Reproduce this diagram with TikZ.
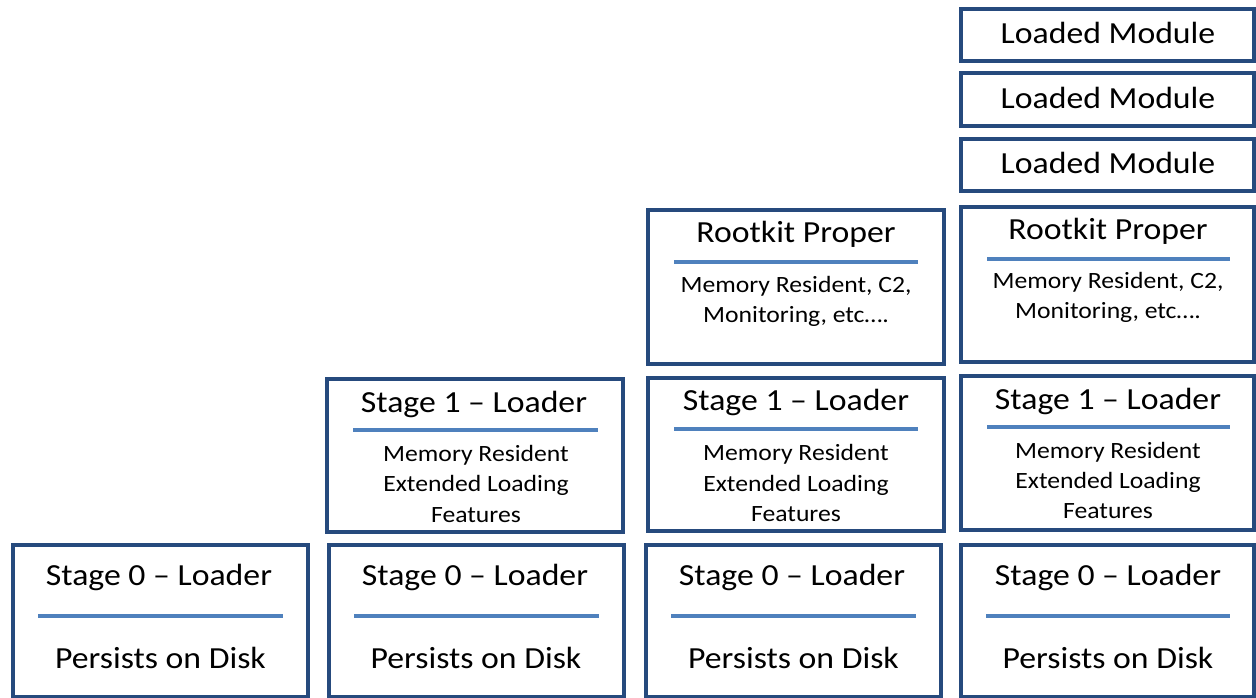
\documentclass[tikz,border=0pt]{standalone}
\usepackage{fontspec}
\setmainfont[FakeStretch=1.1]{Carlito}
\usetikzlibrary{fit}
\definecolor{boxblue}{RGB}{38,74,125}
\definecolor{sepblue}{RGB}{79,129,189}
\begin{document}
\begin{tikzpicture}[x=0.75pt,y=-0.75pt,
  box/.style={draw=boxblue, line width=2.3pt, fill=white, inner sep=0pt, outer sep=0pt},
  sepline/.style={draw=sepblue, line width=3.7pt},
  big/.style={font=\fontsize{23}{27}\selectfont, anchor=base, inner sep=0pt},
  small/.style={font=\fontsize{17.5}{23}\selectfont, anchor=base, inner sep=0pt, align=center}]
\useasboundingbox (0,0) rectangle (1256,698);
% ---------- boxes ----------
\node[box, fit={(13,545) (308,697)}] (c1s0) {};
\node[box, fit={(329,545) (624,697)}] (c2s0) {};
\node[box, fit={(327,379) (623,532)}] (c2s1) {};
\node[box, fit={(646,545) (941,697)}] (c3s0) {};
\node[box, fit={(648,378) (944,531)}] (c3s1) {};
\node[box, fit={(648,210) (944,364)}] (c3rk) {};
\node[box, fit={(961,545) (1254,697)}] (c4s0) {};
\node[box, fit={(961,376) (1254,530)}] (c4s1) {};
\node[box, fit={(961,207) (1254,362)}] (c4rk) {};
\node[box, fit={(961,139) (1254,191)}] (c4m3) {};
\node[box, fit={(961,73) (1254,126)}] (c4m2) {};
\node[box, fit={(961,9) (1254,61)}] (c4m1) {};
% ---------- separators ----------
\draw[sepline] (38,616) -- (283,616);
\draw[sepline] (354,616) -- (599,616);
\draw[sepline] (671,616) -- (916,616);
\draw[sepline] (986,616) -- (1230,616);
\draw[sepline] (353,430) -- (598,430);
\draw[sepline] (674,429) -- (918,429);
\draw[sepline] (987,427) -- (1230,427);
\draw[sepline] (674,262) -- (918,262);
\draw[sepline] (987,259) -- (1230,259);
% ---------- column 1 ----------
\node[big] (t1a) at (159,585) {Stage 0 – Loader};
\node[big] (t1b) at (160.5,668) {Persists on Disk};
% ---------- column 2 ----------
\node[big] (t2a) at (475,585) {Stage 0 – Loader};
\node[big] (t2b) at (476,668) {Persists on Disk};
\node[big] (t2c) at (474,412) {Stage 1 – Loader};
\node[small] (t2d) at (476,461) {Memory Resident};
\node[small] (t2e) at (476,491) {Extended Loading};
\node[small] (t2f) at (476,522) {Features};
% ---------- column 3 ----------
\node[big] (t3a) at (792,585) {Stage 0 – Loader};
\node[big] (t3b) at (793.5,668) {Persists on Disk};
\node[big] (t3c) at (796,411) {Stage 1 – Loader};
\node[small] (t3d) at (796,460) {Memory Resident};
\node[small] (t3e) at (796,491) {Extended Loading};
\node[small] (t3f) at (796,521) {Features};
\node[big] (t3g) at (796,243) {Rootkit Proper};
\node[small] (t3h) at (796,293) {Memory Resident, C2,};
\node[small] (t3i) at (796,323) {Monitoring, etc….};
% ---------- column 4 ----------
\node[big] (t4a) at (1108,585) {Stage 0 – Loader};
\node[big] (t4b) at (1108,668) {Persists on Disk};
\node[big] (t4c) at (1108,409) {Stage 1 – Loader};
\node[small] (t4d) at (1108,458) {Memory Resident};
\node[small] (t4e) at (1108,488) {Extended Loading};
\node[small] (t4f) at (1108,518) {Features};
\node[big] (t4g) at (1108,240) {Rootkit Proper};
\node[small] (t4h) at (1108,289) {Memory Resident, C2,};
\node[small] (t4i) at (1108,319) {Monitoring, etc….};
\node[big] (t4j) at (1108,174) {Loaded Module};
\node[big] (t4k) at (1108,109) {Loaded Module};
\node[big] (t4l) at (1108,44) {Loaded Module};
\end{tikzpicture}
\end{document}
